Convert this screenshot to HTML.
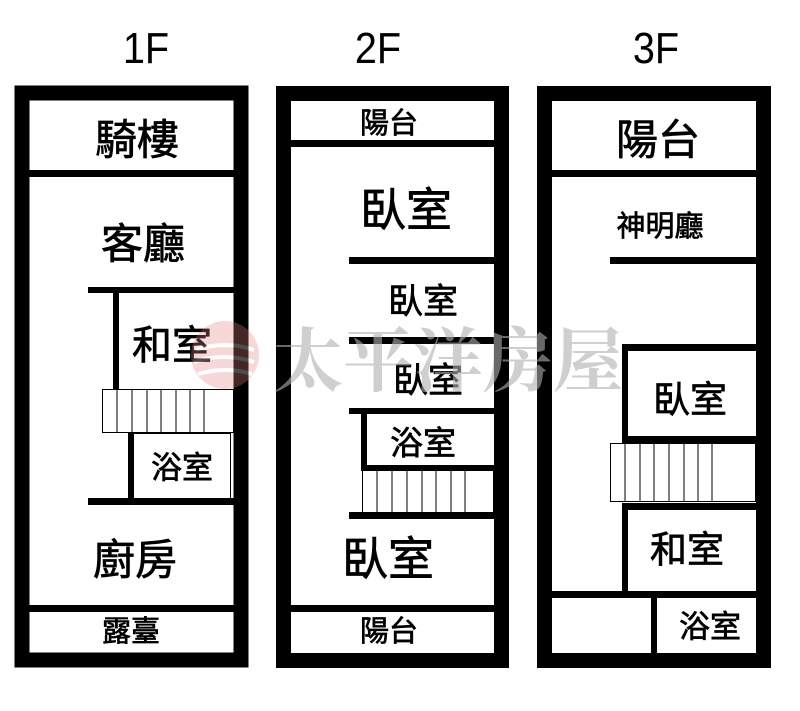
<!DOCTYPE html>
<html><head><meta charset="utf-8"><style>
html,body{margin:0;padding:0;background:#fff}
svg{display:block}
text{font-family:"Liberation Sans","Noto Sans CJK TC",sans-serif;fill:#000;text-anchor:middle;dominant-baseline:central}
.c{stroke:#000;stroke-width:0.7px}
</style></head><body>
<svg width="800" height="711" viewBox="0 0 800 711" xmlns="http://www.w3.org/2000/svg">
<rect width="800" height="711" fill="#fff"/>
<!-- titles -->
<text x="146" y="48" font-size="44" transform="translate(146 48) scale(0.9 1) translate(-146 -48)">1F</text>
<text x="378" y="48" font-size="44" transform="translate(378 48) scale(0.9 1) translate(-378 -48)">2F</text>
<text x="656" y="48" font-size="44" transform="translate(656 48) scale(0.9 1) translate(-656 -48)">3F</text>

<!-- 1F -->
<rect x="22" y="93" width="219" height="567" fill="none" stroke="#000" stroke-width="15"/>
<rect x="29" y="170" width="205" height="7" fill="#000"/>
<rect x="88" y="287" width="146" height="6"/>
<rect x="113" y="287" width="6" height="102"/>
<rect x="102.5" y="389.5" width="131" height="43" fill="#fff" stroke="#000" stroke-width="1"/>
<g stroke="#000" stroke-width="1"><line x1="117" y1="390" x2="117" y2="433"/><line x1="132" y1="390" x2="132" y2="433"/><line x1="147" y1="390" x2="147" y2="433"/><line x1="161" y1="390" x2="161" y2="433"/><line x1="176" y1="390" x2="176" y2="433"/><line x1="190" y1="390" x2="190" y2="433"/><line x1="204" y1="390" x2="204" y2="433"/></g>
<rect x="128" y="433" width="6" height="72"/>
<rect x="133.5" y="433.5" width="97" height="66" fill="none" stroke="#000" stroke-width="1"/>
<rect x="88" y="498" width="146" height="7"/>
<rect x="29" y="605" width="205" height="7"/>
<g class="c">
<text x="137" y="140" font-size="42">騎樓</text>
<text x="143" y="244" font-size="42">客廳</text>
<text x="172" y="346" font-size="40">和室</text>
<text x="182" y="468" font-size="31">浴室</text>
<text x="135" y="560" font-size="42">廚房</text>
<text x="131" y="632" font-size="29">露臺</text>

<text x="389" y="124" font-size="29">陽台</text>
<text x="406" y="210" font-size="46">臥室</text>
<text x="423" y="302" font-size="35">臥室</text>
<text x="428" y="381" font-size="35">臥室</text>
<text x="423" y="443" font-size="33">浴室</text>
<text x="388" y="559" font-size="46">臥室</text>
<text x="389" y="632" font-size="29">陽台</text>

<text x="658" y="140" font-size="42">陽台</text>
<text x="660" y="227" font-size="29">神明廳</text>
<text x="690" y="400" font-size="37">臥室</text>
<text x="687" y="550" font-size="37">和室</text>
<text x="710" y="627" font-size="31">浴室</text>
</g>

<!-- 2F -->
<rect x="283.5" y="93.5" width="218" height="567" fill="none" stroke="#000" stroke-width="15"/>
<rect x="291" y="140" width="203" height="7"/>
<rect x="349" y="257" width="145" height="7"/>
<rect x="349" y="337" width="145" height="7"/>
<rect x="349" y="408" width="145" height="6"/>
<rect x="361" y="414" width="6" height="56"/>
<rect x="361" y="465" width="133" height="6"/>
<rect x="362.5" y="470.5" width="131" height="42" fill="#fff" stroke="#000" stroke-width="1"/>
<g stroke="#000" stroke-width="1"><line x1="377" y1="471" x2="377" y2="512"/><line x1="392" y1="471" x2="392" y2="512"/><line x1="407" y1="471" x2="407" y2="512"/><line x1="422" y1="471" x2="422" y2="512"/><line x1="436" y1="471" x2="436" y2="512"/><line x1="451" y1="471" x2="451" y2="512"/><line x1="465" y1="471" x2="465" y2="512"/></g>
<rect x="349" y="512" width="145" height="7"/>
<rect x="291" y="605" width="203" height="7"/>

<!-- 3F -->
<rect x="544.5" y="93.5" width="219" height="567" fill="none" stroke="#000" stroke-width="15"/>
<rect x="552" y="170" width="204" height="7"/>
<rect x="610" y="257" width="146" height="7"/>
<rect x="622" y="344" width="134" height="7"/>
<rect x="622" y="344" width="6" height="99"/>
<rect x="622" y="436" width="134" height="7"/>
<rect x="610.5" y="443.5" width="145" height="58" fill="#fff" stroke="#000" stroke-width="1"/>
<g stroke="#000" stroke-width="1"><line x1="625" y1="444" x2="625" y2="501"/><line x1="640" y1="444" x2="640" y2="501"/><line x1="654" y1="444" x2="654" y2="501"/><line x1="669" y1="444" x2="669" y2="501"/><line x1="684" y1="444" x2="684" y2="501"/><line x1="698" y1="444" x2="698" y2="501"/><line x1="712" y1="444" x2="712" y2="501"/></g>
<rect x="622" y="503" width="134" height="7"/>
<rect x="622" y="503" width="6" height="90"/>
<rect x="552" y="591" width="204" height="7"/>
<rect x="651" y="598" width="6" height="56"/>

<!-- watermark -->
<g opacity="0.3">
<circle cx="225" cy="355" r="34" fill="#e88080"/>
<path d="M196 350 q29 -10 58 0 M194 362 q30 -10 60 0 M198 374 q27 -8 54 0" stroke="#fff" stroke-width="4" fill="none"/>
</g>
<text x="448" y="356" font-size="70" font-weight="bold" style="font-family:'Noto Serif CJK SC',serif;fill:#b0b0b0;opacity:0.6">太平洋房屋</text>
</svg>
</body></html>
